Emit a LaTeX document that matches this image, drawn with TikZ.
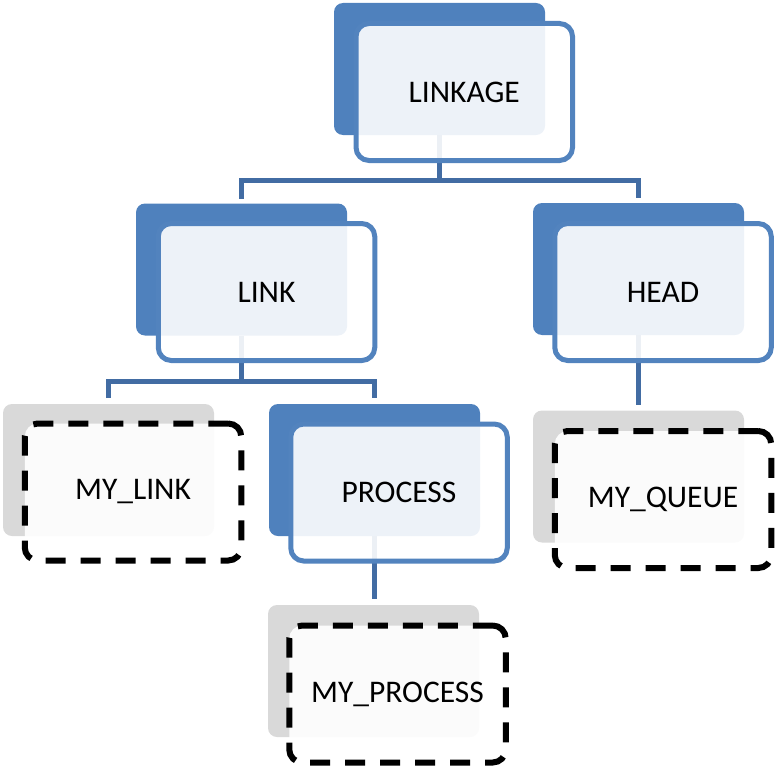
\documentclass[tikz,border=0pt]{standalone}
\usepackage{fontspec}
\setmainfont{Carlito}
\definecolor{blueback}{RGB}{79,129,189}
\definecolor{blueline}{RGB}{82,131,190}
\definecolor{connblue}{RGB}{66,108,163}
\definecolor{grayback}{RGB}{217,217,217}
\begin{document}
\begin{tikzpicture}[x=1pt,y=-1pt,
  backbox/.style={minimum width=211pt,minimum height=132pt,inner sep=0pt,outer sep=0pt,rounded corners=9pt},
  backblue/.style={backbox,fill=blueback},
  backgray/.style={backbox,fill=grayback},
  frontbox/.style={minimum width=216.5pt,minimum height=137pt,inner sep=0pt,outer sep=0pt,rounded corners=13pt,
    fill=white,fill opacity=0.9,draw opacity=1,text opacity=1,line width=5pt,
    font=\fontsize{31.5}{37}\selectfont,text=black},
  frontblue/.style={frontbox,draw=blueline},
  frontdash/.style={frontbox,draw=black,line width=6pt,dash pattern=on 20pt off 15pt},
  conn/.style={draw=connblue,line width=5.5pt}
]
\useasboundingbox (0,0) rectangle (776,768);
% back shapes
\node[backblue] (linkageB) at (439.5,69) {};
\node[backblue] (linkB) at (241.5,269.5) {};
\node[backblue] (headB) at (638.5,269) {};
\node[backgray] (mylinkB) at (108.5,470) {};
\node[backblue] (processB) at (374.5,470) {};
\node[backgray] (myqueueB) at (638.5,476.5) {};
\node[backgray] (myprocessB) at (373.5,671) {};
% connectors
\coordinate (j1) at (439.5,180.5);
\coordinate (j2) at (241.5,381.5);
\draw[conn] (linkageB.south) -- (j1);
\draw[conn] ([yshift=5pt]linkB.north) |- (j1) -| ([yshift=5pt]headB.north);
\draw[conn] (linkB.south) -- (j2);
\draw[conn] ([yshift=6pt]mylinkB.north) |- (j2) -| ([yshift=6pt]processB.north);
\draw[conn] (headB.south) -- ([yshift=6pt]myqueueB.north);
\draw[conn] (processB.south) -- ([yshift=6pt]processB.south |- myprocessB.north);
% front shapes
\node[frontblue] (linkage) at (464.25,92) {LINKAGE};
\node[frontblue] (link) at (266.5,292) {LINK};
\node[frontblue] (head) at (663,292) {HEAD};
\node[frontdash] (mylink) at (133,492) {MY\_LINK};
\node[frontblue] (process) at (399,492.5) {PROCESS};
\node[frontdash] (myqueue) at (663,499.5) {MY\_QUEUE};
\node[frontdash] (myprocess) at (397.5,694) {MY\_PROCESS};
\end{tikzpicture}
\end{document}
